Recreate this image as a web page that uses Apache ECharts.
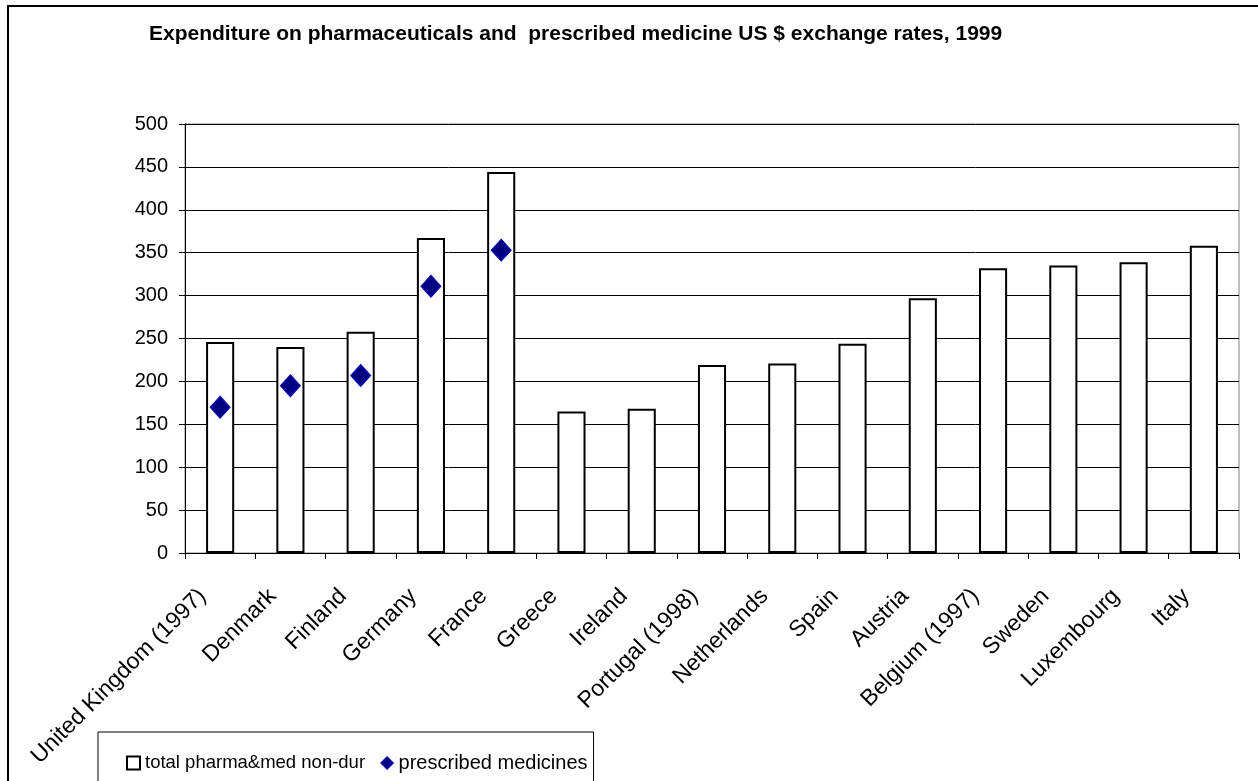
<!DOCTYPE html>
<html>
<head>
<meta charset="utf-8">
<script src="https://cdn.jsdelivr.net/npm/echarts@6/dist/echarts.min.js"></script>
<style>
html,body{margin:0;padding:0;background:#fff;}
#chart{width:1258px;height:781px;}
</style>
</head>
<body>
<div id="chart"></div>
<script>
const categories = ["United Kingdom (1997)","Denmark","Finland","Germany","France","Greece","Ireland","Portugal (1998)","Netherlands","Spain","Austria","Belgium (1997)","Sweden","Luxembourg","Italy"];
const totalPharma = [246,240,258,367,444,165,168,219,221,244,297,332,335,339,358];
const prescribed = [170,195,207,311,353,null,null,null,null,null,null,null,null,null,null];
const yTicks = [0,50,100,150,200,250,300,350,400,450,500];

const FONT = 'Liberation Sans, Arial, sans-serif';
const chart = echarts.init(document.getElementById('chart'));
chart.setOption({
  animation: false,
  backgroundColor: '#fff',
  title: {
    text: 'Expenditure on pharmaceuticals and  prescribed medicine US $ exchange rates, 1999',
    left: 144, top: 19,
    textStyle: {fontFamily: FONT, fontSize: 21, fontWeight: 'bold', color: '#000'}
  },
  graphic: [{
    type: 'rect', shape: {x: 8, y: 6, width: 1300, height: 800},
    style: {fill: 'none', stroke: '#000', lineWidth: 2}, silent: true, z: -1
  }],
  grid: {
    left: 185, right: 19, top: 124, bottom: 228,
    show: true, borderColor: '#808080', borderWidth: 1
  },
  legend: {
    left: 98, top: 732,
    orient: 'horizontal',
    padding: [21, 6, 40, 28],
    borderColor: '#000', borderWidth: 1,
    itemGap: 15,
    itemWidth: 13, itemHeight: 13,
    textStyle: {fontFamily: FONT, fontSize: 18.5, color: '#000'},
    data: [
      {name: 'total pharma&med non-dur', icon: 'rect'},
      {name: 'prescribed medicines', icon: 'diamond', textStyle: {fontSize: 20},
        itemStyle: {color: '#000080', borderColor: '#0000FF', borderWidth: 1}}
    ]
  },
  xAxis: {
    type: 'category',
    data: categories,
    boundaryGap: true,
    axisLine: {lineStyle: {color: '#000', width: 1}},
    axisTick: {show: true, length: 6, alignWithLabel: false, lineStyle: {color: '#000'}},
    axisLabel: {rotate: 45, interval: 0, margin: 22, padding: [0, 25, 0, 0],
      fontFamily: FONT, fontSize: 23, color: '#000'},
    splitLine: {show: false}
  },
  yAxis: {
    type: 'value',
    min: 0, max: 500, interval: 50,
    axisLine: {show: true, lineStyle: {color: '#000', width: 1}},
    axisTick: {show: true, length: 6, lineStyle: {color: '#000'}},
    axisLabel: {margin: 17, fontFamily: FONT, fontSize: 20, color: '#000',
      formatter: v => yTicks.includes(v) ? String(v) : ''},
    splitLine: {show: true, lineStyle: {color: '#000', width: 1}}
  },
  series: [
    {
      name: 'total pharma&med non-dur',
      type: 'bar',
      data: totalPharma,
      barWidth: '40%',
      itemStyle: {color: '#fff', borderColor: '#000', borderWidth: 2},
      z: 2
    },
    {
      name: 'prescribed medicines',
      type: 'scatter',
      data: prescribed,
      symbol: 'diamond',
      symbolSize: [20, 22],
      itemStyle: {color: '#000080', borderColor: '#0000FF', borderWidth: 1, opacity: 1},
      z: 3
    }
  ]
});
</script>
</body>
</html>
